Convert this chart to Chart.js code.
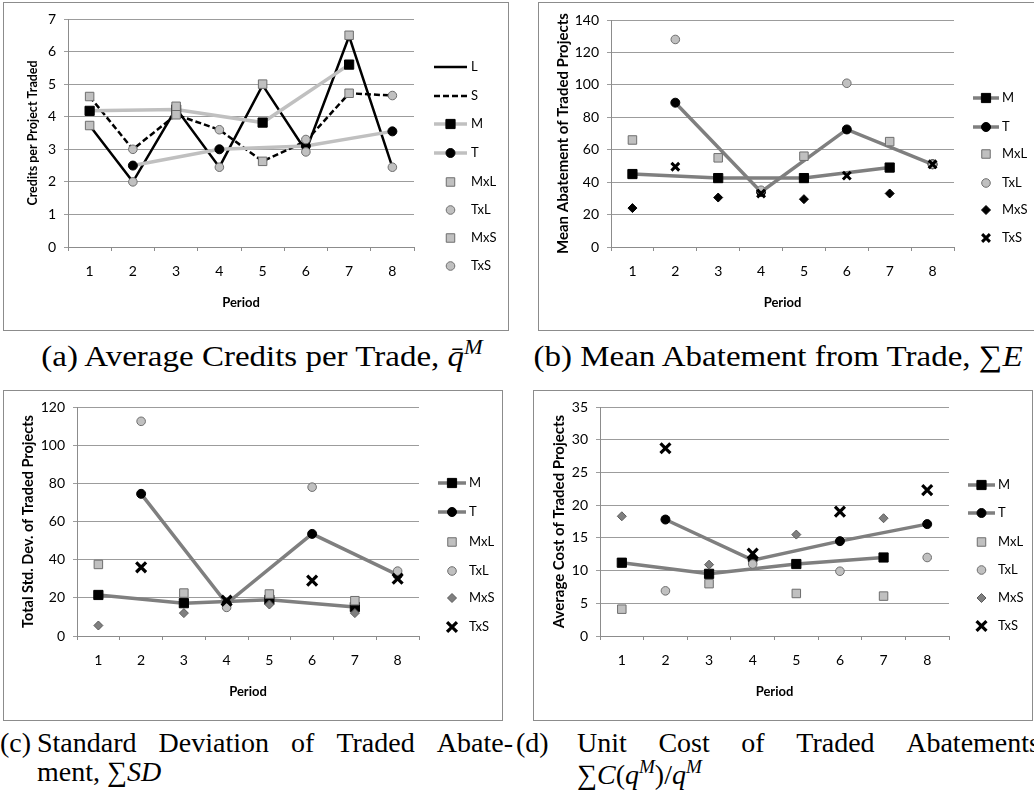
<!DOCTYPE html>
<html>
<head>
<meta charset="utf-8">
<script src="https://cdn.jsdelivr.net/npm/chart.js@4.4.1/dist/chart.umd.min.js"></script>
<style>
body { margin: 0; background: #fff; width: 1034px; height: 800px; position: relative; overflow: hidden; }
.box { position: absolute; border: 1px solid #8c8c8c; box-sizing: border-box; }
canvas { position: absolute; }
.cap { position: absolute; font-family: "Liberation Serif", serif; font-size: 30px; line-height: 30px; color: #000; white-space: nowrap; }
.mid { text-align: center; transform: scaleX(1.1); transform-origin: center center; }
.low { font-size: 28px; line-height: 29px; }
.row { display: flex; justify-content: space-between; }
.cap sup { font-size: 0.68em; vertical-align: 0.6em; font-style: italic; line-height: 0; }
</style>
</head>
<body>

<div class="box" style="left:3px;top:2px;width:506px;height:329px"></div>
<div class="box" style="left:538px;top:2px;width:497px;height:329px"></div>
<div class="box" style="left:3px;top:390px;width:500px;height:331px"></div>
<div class="box" style="left:533px;top:390px;width:500px;height:331px"></div>

<canvas id="chartA" width="505" height="328" style="left:3px;top:2px"></canvas>
<canvas id="chartB" width="496" height="328" style="left:538px;top:2px"></canvas>
<canvas id="chartC" width="500" height="330" style="left:3px;top:390px"></canvas>
<canvas id="chartD" width="500" height="330" style="left:533px;top:390px"></canvas>

<div class="cap mid" style="left:12px;width:500px;top:341px">(a) Average Credits per Trade, <i>q&#772;</i><sup>M</sup></div>
<div class="cap mid" style="left:528px;width:500px;top:341px">(b) Mean Abatement from Trade, &sum;<i>E</i></div>

<div class="cap low" style="left:0px;top:728px">(c)</div>
<div class="cap low row" style="left:37px;top:728px;width:476px"><span>Standard</span><span>Deviation</span><span>of</span><span>Traded</span><span>Abate-</span></div>
<div class="cap low" style="left:37px;top:757px">ment, &sum;<i>SD</i></div>

<div class="cap low" style="left:516px;top:728px">(d)</div>
<div class="cap low row" style="left:577px;top:728px;width:463px"><span>Unit</span><span>Cost</span><span>of</span><span>Traded</span><span>Abatements</span></div>
<div class="cap low" style="left:577px;top:760px">&sum;<i>C</i>(<i>q</i><sup>M</sup>)/<i>q</i><sup>M</sup></div>

<script>
document.addEventListener('DOMContentLoaded', () => {

/////////////////////// Data //////////////////////////
const periods = ['1', '2', '3', '4', '5', '6', '7', '8'];

// (a) credits per project traded
const aTicks = [0, 7, 1];
const aL   = [3.73, 2.0, 4.25, 2.45, 4.97, 2.95, 6.47, 2.45];
const aS   = [4.62, 3.0, 4.06, 3.6, 2.63, 3.25, 4.72, 4.65];
const aM   = [4.18, null, 4.22, null, 3.82, null, 5.6, null];
const aT   = [null, 2.5, null, 3.0, null, 3.1, null, 3.55];
const aMxL = [3.73, null, 4.32, null, 5.0, null, 6.5, null];
const aTxL = [null, 2.0, null, 2.45, null, 2.92, null, 2.45];
const aMxS = [4.62, null, 4.06, null, 2.63, null, 4.72, null];
const aTxS = [null, 3.0, null, 3.6, null, 3.3, null, 4.65];

// (b) mean abatement of traded projects
const bTicks = [0, 140, 20];
const bM   = [45, null, 42.5, null, 42.5, null, 49, null];
const bT   = [null, 89, null, 34, null, 72.5, null, 51];
const bMxL = [66, null, 55, null, 56, null, 65, null];
const bTxL = [null, 128, null, 35, null, 101, null, 51];
const bMxS = [24, null, 30.5, null, 29.5, null, 33, null];
const bTxS = [null, 49.5, null, 33, null, 44, null, 51];

// (c) total std. dev. of traded projects
const cTicks = [0, 120, 20];
const cM   = [21.5, null, 17.2, null, 19, null, 15.2, null];
const cT   = [null, 74.5, null, 17, null, 53.5, null, 32];
const cMxL = [37.5, null, 22.5, null, 22, null, 18.5, null];
const cTxL = [null, 112.5, null, 15, null, 78, null, 34];
const cMxS = [5.5, null, 12, null, 16.5, null, 12, null];
const cTxS = [null, 36, null, 18.5, null, 29, null, 30];

// (d) average cost of traded projects
const dTicks = [0, 35, 5];
const dM   = [11.2, null, 9.5, null, 11, null, 12, null];
const dT   = [null, 17.8, null, 11.6, null, 14.5, null, 17.1];
const dMxL = [4.1, null, 8, null, 6.5, null, 6.1, null];
const dTxL = [null, 6.9, null, 11, null, 9.9, null, 12];
const dMxS = [18.3, null, 10.9, null, 15.5, null, 18, null];
const dTxS = [null, 28.7, null, 12.6, null, 19, null, 22.3];

/////////////////////// Styles //////////////////////////
const LIGHT = '#c0c0c0';
const MID = '#7f7f7f';
const EDGE = '#6e6e6e';
const GRID = '#9c9c9c';
const AXIS = '#8c8c8c';
const FONT = 'Lato, "DejaVu Sans", sans-serif';

Chart.defaults.font.family = FONT;
Chart.defaults.color = '#000';

// one dataset; o holds the look of the line and of the marker
function series(label, data, o) {
    return {
        label: label,
        data: data,
        spanGaps: true,
        showLine: !!o.line,
        borderColor: o.line || 'rgba(0,0,0,0)',
        borderWidth: o.lw || 0,
        borderDash: o.dash || [],
        tension: 0,
        fill: false,
        pointStyle: o.shape || 'circle',
        pointRadius: o.shape ? o.r : 0,
        pointHoverRadius: o.shape ? o.r : 0,
        pointBackgroundColor: o.fill || '#000',
        pointBorderColor: o.edge || '#000',
        pointBorderWidth: o.ew === undefined ? 1 : o.ew
    };
}

// markers for the side legend, same maths as Chart.js drawPoint
function drawMark(ctx, ds, x, y) {
    const r = ds.pointRadius;
    if (!r) return;
    ctx.save();
    ctx.fillStyle = ds.pointBackgroundColor;
    ctx.strokeStyle = ds.pointBorderColor;
    ctx.lineWidth = ds.pointBorderWidth;
    ctx.setLineDash([]);
    ctx.beginPath();
    const style = ds.pointStyle;
    if (style === 'rect') {
        const s = Math.SQRT1_2 * r;
        ctx.rect(x - s, y - s, 2 * s, 2 * s);
    } else if (style === 'rectRot') {
        ctx.moveTo(x - r, y);
        ctx.lineTo(x, y - r);
        ctx.lineTo(x + r, y);
        ctx.lineTo(x, y + r);
        ctx.closePath();
    } else if (style === 'crossRot') {
        const s = Math.SQRT1_2 * r;
        ctx.moveTo(x - s, y - s);
        ctx.lineTo(x + s, y + s);
        ctx.moveTo(x - s, y + s);
        ctx.lineTo(x + s, y - s);
    } else {
        ctx.arc(x, y, r, 0, Math.PI * 2);
    }
    if (style !== 'crossRot') ctx.fill();
    if (ds.pointBorderWidth > 0) ctx.stroke();
    ctx.restore();
}

const sideLegend = {
    id: 'sideLegend',
    afterDraw(chart, args, opts) {
        const ctx = chart.ctx;
        chart.data.datasets.forEach((ds, i) => {
            const y = opts.ys[i];
            if (ds.showLine) {
                ctx.save();
                ctx.strokeStyle = ds.borderColor;
                ctx.lineWidth = ds.borderWidth;
                ctx.setLineDash(ds.borderDash);
                ctx.beginPath();
                ctx.moveTo(opts.x1, y);
                ctx.lineTo(opts.x2, y);
                ctx.stroke();
                ctx.restore();
            }
            drawMark(ctx, ds, (opts.x1 + opts.x2) / 2, y);
            ctx.save();
            ctx.fillStyle = '#000';
            ctx.font = '13px ' + FONT;
            ctx.textBaseline = 'middle';
            ctx.fillText(ds.label, opts.tx, y);
            ctx.restore();
        });
    }
};

// g: box and plot area in page pixels
function makeChart(id, g, ticks, yTitle, datasets) {
    const tlh = g.ts * 1.2;
    const xlh = 13 * 1.2;
    const n = datasets.length;
    // later series are drawn on top, as in the spreadsheet
    datasets.forEach((ds, i) => { ds.order = n - i; });
    return new Chart(document.getElementById(id), {
        type: 'line',
        data: { labels: periods, datasets: datasets },
        options: {
            responsive: false,
            animation: false,
            devicePixelRatio: 1,
            layout: {
                padding: { left: 0, top: g.t - g.y, right: g.x + g.w - g.r, bottom: 0 }
            },
            plugins: {
                legend: { display: false },
                tooltip: { enabled: false },
                sideLegend: {
                    x1: g.lx1 - g.x, x2: g.lx2 - g.x, tx: g.ltx - g.x,
                    ys: g.lys.map(v => v - g.y)
                }
            },
            scales: {
                x: {
                    offset: true,
                    afterFit: s => { s.height = g.y + g.h - g.b; },
                    grid: { drawOnChartArea: false, drawTicks: true, tickLength: 4, offset: true, color: AXIS },
                    border: { display: true, color: AXIS },
                    ticks: { padding: 12, font: { size: 14 } },
                    title: {
                        display: true, text: 'Period',
                        font: { size: 13, weight: 'bold' },
                        padding: { top: 0, bottom: g.y + g.h - g.xt - xlh / 2 }
                    }
                },
                y: {
                    min: ticks[0],
                    max: ticks[1],
                    afterFit: s => { s.width = g.l - g.x; },
                    grid: { color: GRID, tickLength: 4 },
                    border: { display: true, color: AXIS },
                    ticks: { stepSize: ticks[2], padding: 8, font: { size: 14 } },
                    title: {
                        display: true, text: yTitle,
                        font: { size: g.ts, weight: 'bold' },
                        padding: { top: g.yt - g.x - tlh / 2, bottom: 0 }
                    }
                }
            }
        },
        plugins: [sideLegend]
    });
}

/////////////////////// Charts //////////////////////////

// (a) light grey lines, grey markers
makeChart('chartA',
    { x: 3, y: 2, w: 505, h: 328, l: 68, t: 19, r: 414, b: 247, yt: 33, xt: 303, ts: 12.5,
      lx1: 434, lx2: 467, ltx: 471, lys: [67, 96, 124, 153, 182, 210, 238, 266] },
    aTicks, 'Credits per Project Traded', [
    series('L', aL, { line: '#000', lw: 2.5 }),
    series('S', aS, { line: '#000', lw: 2.5, dash: [6, 3] }),
    series('M', aM, { line: LIGHT, lw: 3.5, shape: 'rect', r: 6.5, fill: '#000', edge: '#000' }),
    series('T', aT, { line: LIGHT, lw: 3.5, shape: 'circle', r: 4.5, fill: '#000', edge: '#000' }),
    series('MxL', aMxL, { shape: 'rect', r: 6, fill: LIGHT, edge: EDGE }),
    series('TxL', aTxL, { shape: 'circle', r: 4.3, fill: LIGHT, edge: EDGE }),
    series('MxS', aMxS, { shape: 'rect', r: 6, fill: LIGHT, edge: EDGE }),
    series('TxS', aTxS, { shape: 'circle', r: 4.3, fill: LIGHT, edge: EDGE })
]);

// (b)
makeChart('chartB',
    { x: 538, y: 2, w: 496, h: 328, l: 611, t: 20, r: 954, b: 247, yt: 563, xt: 303, ts: 15,
      lx1: 973, lx2: 999, ltx: 1002, lys: [98, 127, 154, 183, 210, 238] },
    bTicks, 'Mean Abatement of Traded Projects', [
    series('M', bM, { line: MID, lw: 3.5, shape: 'rect', r: 6.5, fill: '#000', edge: '#000' }),
    series('T', bT, { line: MID, lw: 3.5, shape: 'circle', r: 4.5, fill: '#000', edge: '#000' }),
    series('MxL', bMxL, { shape: 'rect', r: 6, fill: LIGHT, edge: EDGE }),
    series('TxL', bTxL, { shape: 'circle', r: 4.3, fill: LIGHT, edge: EDGE }),
    series('MxS', bMxS, { shape: 'rectRot', r: 4.5, fill: '#000', edge: '#000' }),
    series('TxS', bTxS, { shape: 'crossRot', r: 5.5, edge: '#000', ew: 3 })
]);

// (c)
makeChart('chartC',
    { x: 3, y: 390, w: 500, h: 330, l: 77, t: 407, r: 419, b: 636, yt: 28, xt: 692, ts: 14.5,
      lx1: 438, lx2: 466, ltx: 469, lys: [483, 512, 542, 571, 598, 627] },
    cTicks, 'Total Std. Dev. of Traded Projects', [
    series('M', cM, { line: MID, lw: 3.5, shape: 'rect', r: 6.5, fill: '#000', edge: '#000' }),
    series('T', cT, { line: MID, lw: 3.5, shape: 'circle', r: 4.5, fill: '#000', edge: '#000' }),
    series('MxL', cMxL, { shape: 'rect', r: 6, fill: LIGHT, edge: EDGE }),
    series('TxL', cTxL, { shape: 'circle', r: 4.3, fill: LIGHT, edge: EDGE }),
    series('MxS', cMxS, { shape: 'rectRot', r: 4.5, fill: MID, edge: '#5a5a5a' }),
    series('TxS', cTxS, { shape: 'crossRot', r: 7, edge: '#000', ew: 3.2 })
]);

// (d)
makeChart('chartD',
    { x: 533, y: 390, w: 500, h: 330, l: 600, t: 407, r: 949, b: 636, yt: 559, xt: 692, ts: 15,
      lx1: 968, lx2: 995, ltx: 998, lys: [485, 513, 542, 570, 598, 626] },
    dTicks, 'Average Cost of Traded Projects', [
    series('M', dM, { line: MID, lw: 3.5, shape: 'rect', r: 6.5, fill: '#000', edge: '#000' }),
    series('T', dT, { line: MID, lw: 3.5, shape: 'circle', r: 4.5, fill: '#000', edge: '#000' }),
    series('MxL', dMxL, { shape: 'rect', r: 6, fill: LIGHT, edge: EDGE }),
    series('TxL', dTxL, { shape: 'circle', r: 4.3, fill: LIGHT, edge: EDGE }),
    series('MxS', dMxS, { shape: 'rectRot', r: 4.5, fill: MID, edge: '#5a5a5a' }),
    series('TxS', dTxS, { shape: 'crossRot', r: 7, edge: '#000', ew: 3.2 })
]);

});
</script>
</body>
</html>
